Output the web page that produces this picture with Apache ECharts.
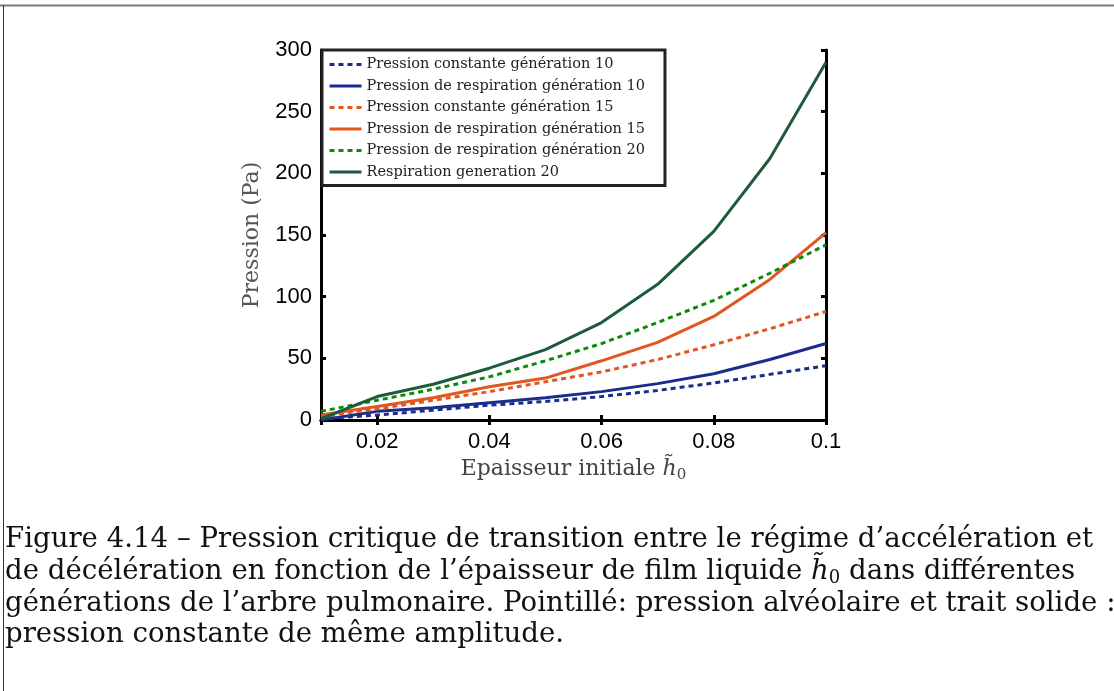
<!DOCTYPE html>
<html>
<head>
<meta charset="utf-8">
<script src="https://cdn.jsdelivr.net/npm/echarts@6/dist/echarts.min.js"></script>
<style>
html,body{margin:0;padding:0;background:#fff;}
#chart{width:1114px;height:691px;}
</style>
</head>
<body>
<div id="chart"></div>
<script>
const xValues = [0.01, 0.02, 0.03, 0.04, 0.05, 0.06, 0.07, 0.08, 0.09, 0.1];
const constGen10 = [1, 4, 8, 12, 15, 19, 24, 30, 37, 44];
const respGen10 = [0, 7, 10, 14, 18, 23, 29.5, 37.5, 49, 62];
const constGen15 = [3, 9, 16, 23, 31, 39, 49, 61, 74, 88];
const respGen15 = [4, 11, 18, 27, 34, 48, 63, 84, 114, 152];
const respGen20Dotted = [7, 16, 25, 35, 48, 62, 79, 97, 119, 142];
const respGen20 = [1, 19, 29, 42, 57, 79, 110, 153, 212, 290];

const seriesNames = [
  'Pression constante génération 10',
  'Pression de respiration génération 10',
  'Pression constante génération 15',
  'Pression de respiration génération 15',
  'Pression de respiration génération 20',
  'Respiration generation 20'
];
const seriesData = [constGen10, respGen10, constGen15, respGen15, respGen20Dotted, respGen20];
const seriesColors = ['#1b2d8c', '#1b2d8c', '#e2561f', '#e2561f', '#0b8a0b', '#1d5b3b'];
const seriesDashed = [true, false, true, false, true, false];

const captionLines = [
  'Figure 4.14 – Pression critique de transition entre le régime d’accélération et',
  'de décélération en fonction de l’épaisseur de film liquide {i|h̃}{s|0} dans différentes',
  'générations de l’arbre pulmonaire. Pointillé: pression alvéolaire et trait solide :',
  'pression constante de même amplitude.'
];

const chart = echarts.init(document.getElementById('chart'), null, {renderer: 'canvas'});

const serif = 'DejaVu Serif';
const capFont = 'DejaVu Serif';

const series = seriesNames.map((name, k) => ({
  name: name,
  type: 'line',
  xAxisIndex: 0,
  yAxisIndex: 0,
  symbol: 'none',
  data: xValues.map((x, i) => [x, seriesData[k][i]]),
  lineStyle: {color: seriesColors[k], width: 3, type: seriesDashed[k] ? [5, 4] : 'solid'},
  itemStyle: {color: seriesColors[k]},
  z: 2
}));

const axisCommon = {
  axisLine: {show: true, lineStyle: {color: '#000', width: 3}},
  axisTick: {show: true, inside: true, length: 5, lineStyle: {color: '#000', width: 3}},
  splitLine: {show: false}
};

const graphics = [
  {type: 'line', shape: {x1: 0, y1: 5.5, x2: 1114, y2: 5.5}, style: {stroke: '#7a7a7a', lineWidth: 2}, z: 10},
  {type: 'line', shape: {x1: 3.5, y1: 5, x2: 3.5, y2: 691}, style: {stroke: '#333', lineWidth: 1}, z: 10}
];
const capTop = [526, 558, 590, 621];
captionLines.forEach((t, i) => {
  graphics.push({
    type: 'text', left: 5, top: capTop[i],
    style: {
      text: t, fill: '#111', font: '27.6px "' + capFont + '"',
      rich: {
        i: {fontFamily: capFont, fontSize: 27.6, fontStyle: 'italic', fill: '#111'},
        s: {fontFamily: capFont, fontSize: 18, fill: '#111', padding: [12, 0, 0, 0]}
      }
    }
  });
});

chart.setOption({
  animation: false,
  backgroundColor: '#fff',
  grid: {left: 321, right: 288, top: 50, bottom: 271, containLabel: false},
  legend: {
    data: seriesNames,
    orient: 'vertical',
    left: 322, top: 50,
    padding: [7, 20, 6, 6],
    itemGap: 6.5,
    itemWidth: 32, itemHeight: 14,
    backgroundColor: '#fff',
    borderColor: '#222', borderWidth: 3,
    itemStyle: {opacity: 0},
    lineStyle: {width: 3},
    textStyle: {fontFamily: serif, fontSize: 14.5, color: '#222', lineHeight: 14},
    z: 5
  },
  xAxis: [
    Object.assign({}, axisCommon, {
      type: 'value', min: 0.01, max: 0.1, splitNumber: 5, position: 'bottom',
      axisLabel: {show: true, showMinLabel: false, margin: 11, color: '#000', fontFamily: 'Liberation Sans', fontSize: 22,
        formatter: v => String(+v.toFixed(3))},
      name: 'Epaisseur initiale {h|h̃}{s|0}',
      nameLocation: 'middle', nameGap: 34,
      nameTextStyle: {fontFamily: serif, fontSize: 22, color: '#444',
        rich: {h: {fontFamily: serif, fontSize: 22, fontStyle: 'italic', color: '#444'},
               s: {fontFamily: serif, fontSize: 15, color: '#444', padding: [12, 0, 0, 0]}}}
    }),
    Object.assign({}, axisCommon, {
      type: 'value', min: 0.01, max: 0.1, splitNumber: 5, position: 'top',
      axisLabel: {show: false}
    })
  ],
  yAxis: [
    Object.assign({}, axisCommon, {
      type: 'value', min: 0, max: 300, interval: 50, position: 'left',
      axisLabel: {show: true, margin: 9, color: '#000', fontFamily: 'Liberation Sans', fontSize: 22},
      name: 'Pression (Pa)', nameLocation: 'middle', nameGap: 58,
      nameTextStyle: {fontFamily: serif, fontSize: 22, color: '#555'}
    }),
    Object.assign({}, axisCommon, {
      type: 'value', min: 0, max: 300, interval: 50, position: 'right',
      axisLabel: {show: false}
    })
  ],
  series: series,
  graphic: graphics
});
</script>
</body>
</html>
